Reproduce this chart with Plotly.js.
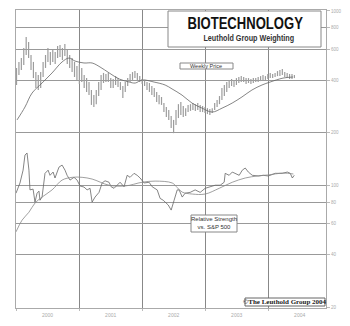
<!DOCTYPE html>
<html><head><meta charset="utf-8">
<script src="https://cdn.plot.ly/plotly-3.0.1.min.js"></script>
<style>html,body{margin:0;padding:0;background:#fff;}#chart{width:350px;height:326px;}</style>
</head><body><div id="chart"></div>
<script>
// Weekly price bars (sampled every two weeks): highs and lows
const priceStart = '2000-01-04';
const priceStepDays = 14;
const priceHigh = [471,510,537,613,709,664,559,510,446,429,446,510,559,613,582,597,582,630,638,613,
  646,597,559,537,510,483,496,471,429,412,391,352,329,352,391,429,441,435,441,412,
  407,423,412,391,371,391,412,435,446,452,441,423,407,402,391,386,371,361,343,329,
  321,296,281,270,250,237,270,292,300,285,277,289,292,296,292,296,289,285,281,277,
  274,277,296,308,325,361,376,391,402,407,402,412,418,423,418,412,412,407,412,412,
  418,423,429,423,435,441,435,441,452,458,464,446,441,435,435,429];
const priceLow = [376,429,458,490,559,537,458,412,361,352,361,418,471,510,490,510,496,537,544,523,
  552,496,471,446,418,402,381,391,361,343,329,289,281,292,325,352,386,391,391,361,
  361,376,366,352,317,343,371,391,402,412,402,391,381,371,352,343,329,321,300,292,
  289,263,246,237,213,199,222,243,253,246,250,263,267,270,267,270,263,263,260,256,
  253,260,270,281,292,308,325,343,361,371,366,376,386,391,391,381,386,381,386,391,
  391,396,402,402,407,412,412,418,423,423,429,418,412,407,407,412];

// 40-week moving average of price
const maDates = ['2000-01-07','2000-02-22','2000-04-03','2000-05-31','2000-07-28','2000-09-24','2000-11-03','2000-12-08',
  '2001-01-29','2001-03-17','2001-05-02','2001-06-24','2001-08-21','2001-10-18','2001-11-22','2002-01-01',
  '2002-03-11','2002-05-14','2002-06-23','2002-08-20','2002-10-17','2002-12-14','2003-02-10','2003-04-09',
  '2003-06-06','2003-08-02','2003-09-29','2003-11-26','2004-01-12','2004-03-27','2004-05-24'];
const maVals = [237,281,338,386,441,510,537,516,503,503,477,441,407,391,386,402,391,376,357,329,296,277,263,277,296,321,352,376,391,412,418];

// Relative strength vs. S&P 500
const rsDates = ['2000-01-01','2000-01-18','2000-01-24','2000-02-11','2000-02-22','2000-03-05','2000-03-16','2000-03-22',
  '2000-04-09','2000-04-20','2000-05-02','2000-05-13','2000-05-19','2000-05-31','2000-06-11','2000-06-17','2000-07-05',
  '2000-07-16','2000-08-03','2000-08-14','2000-09-06','2000-09-24','2000-10-11','2000-10-23','2000-11-09','2000-12-02',
  '2000-12-20','2001-01-06','2001-01-29','2001-02-16','2001-03-05','2001-03-17','2001-04-03','2001-04-26','2001-05-14',
  '2001-05-31','2001-06-23','2001-07-05','2001-07-22','2001-08-09','2001-08-26','2001-09-18','2001-10-06','2001-10-23',
  '2001-11-15','2001-12-03','2001-12-20','2002-01-12','2002-02-10','2002-02-28','2002-03-29','2002-04-15','2002-05-03',
  '2002-06-01','2002-06-18','2002-07-05','2002-07-23','2002-08-03','2002-08-21','2002-09-07','2002-10-06','2002-11-04',
  '2002-12-03','2003-01-01','2003-01-30','2003-02-28','2003-03-29','2003-04-21','2003-04-27','2003-05-20','2003-06-07',
  '2003-06-30','2003-07-17','2003-08-04','2003-08-21','2003-09-08','2003-10-01','2003-11-05','2003-12-04','2004-01-02',
  '2004-02-11','2004-03-23','2004-04-21','2004-05-08','2004-05-20','2004-05-31'];
const rsVals = [90,100,103,122,149,153,122,94,95,80,90,92.5,82,85.5,103,117,122,114,119,110,127,130.5,122,114,107,111,
  107,99,97.6,94,96,80,85.5,91,103,106,104,98,96,100,104,98,114,111,117,114,110,103,104,98,94,84,82,77,72,82,94,94,
  85.5,90,91,94,91,96,98,100,100,104,117,114,119,116,114,122,125.5,119,114,113,114,113,117,117,119,117,110,114];

// Moving average of relative strength
const rsMaDates = ['2000-01-01','2000-02-05','2000-03-16','2000-04-20','2000-05-31','2000-07-28','2000-09-24','2000-11-21',
  '2001-01-18','2001-03-17','2001-06-23','2001-09-24','2002-01-01','2002-03-17','2002-06-24','2002-07-23','2002-08-21',
  '2002-10-18','2003-01-01','2003-03-23','2003-06-07','2003-08-21','2003-10-30','2003-12-27','2004-03-29','2004-05-26'];
const rsMaVals = [54,63,70,79,85.5,94,107,111,111,108.5,100,99,104,105.6,103,97,91.3,89,89,96,104,110,113,114.4,117.4,116];

const yTicks = [20,40,60,80,100,200,400,600,800,1000];
const xRange = ['2000-01-01','2004-12-01'];

// build dates for the price bars
const priceDates = [];
{
  const t0 = new Date(priceStart + 'T00:00:00Z').getTime();
  for (let i = 0; i < priceHigh.length; i++) {
    priceDates.push(new Date(t0 + i * priceStepDays * 86400000).toISOString().slice(0,10));
  }
}
const barX = [], barY = [];
priceDates.forEach((d, i) => { barX.push(d, d, null); barY.push(priceLow[i], priceHigh[i], null); });

const traces = [
  {x: barX, y: barY, type: 'scatter', mode: 'lines', line: {color: '#9c9c9c', width: 1.2}, hoverinfo: 'skip'},
  {x: maDates, y: maVals, type: 'scatter', mode: 'lines', line: {color: '#666', width: 0.8, shape: 'spline'}},
  {x: rsDates, y: rsVals, type: 'scatter', mode: 'lines', line: {color: '#666', width: 0.8}},
  {x: rsMaDates, y: rsMaVals, type: 'scatter', mode: 'lines', line: {color: '#888', width: 0.8, shape: 'spline'}}
];

function px(x){ return (x - 16) / 310; }
function py(y){ return (308 - y) / 298; }

const sans = 'Liberation Sans, Arial, sans-serif';
const layout = {
  width: 350, height: 326,
  margin: {l: 16, r: 24, t: 10, b: 18},
  paper_bgcolor: '#fff', plot_bgcolor: '#fff',
  showlegend: false,
  xaxis: {
    type: 'date', range: xRange, dtick: 'M12', tick0: '2000-01-01', tickformat: '%Y',
    ticklabelmode: 'period', showgrid: true, gridcolor: '#888', gridwidth: 1,
    showline: true, mirror: true, linecolor: '#aaa', linewidth: 1,
    ticks: 'outside', ticklen: 2, tickcolor: '#bbb',
    tickfont: {family: sans, size: 5, color: '#aaa'},
    zeroline: false
  },
  yaxis: {
    type: 'log', range: [1.2953, 3.0057], side: 'right',
    tickvals: yTicks, ticktext: yTicks.map(String),
    showgrid: true, gridcolor: '#999', gridwidth: 1,
    showline: true, mirror: true, linecolor: '#aaa', linewidth: 1,
    ticks: 'outside', ticklen: 3, tickcolor: '#bbb',
    tickfont: {family: sans, size: 4.5, color: '#aaa'},
    zeroline: false
  },
  shapes: [
    {type: 'rect', xref: 'paper', yref: 'paper', x0: px(168), x1: px(321), y0: py(47), y1: py(11),
      fillcolor: '#fff', line: {color: '#888', width: 1}, layer: 'above'},
    {type: 'rect', xref: 'paper', yref: 'paper', x0: px(180), x1: px(233), y0: py(69), y1: py(63),
      fillcolor: '#fff', line: {color: '#888', width: 1}, layer: 'above'},
    {type: 'rect', xref: 'paper', yref: 'paper', x0: px(191), x1: px(237), y0: py(232), y1: py(215),
      fillcolor: '#fff', line: {color: '#888', width: 1}, layer: 'above'},
    {type: 'rect', xref: 'paper', yref: 'paper', x0: px(245), x1: px(325), y0: py(306), y1: py(298),
      fillcolor: '#fff', line: {color: '#666', width: 1}, layer: 'above'}
  ],
  annotations: [
    {text: '<b>BIOTECHNOLOGY</b>', xref: 'paper', yref: 'paper', x: px(245), y: py(23), showarrow: false,
      xanchor: 'center', yanchor: 'middle', font: {family: sans, size: 17, color: '#111'}},
    {text: '<b>Leuthold Group Weighting</b>', xref: 'paper', yref: 'paper', x: px(249), y: py(38), showarrow: false,
      xanchor: 'center', yanchor: 'middle', font: {family: sans, size: 9.5, color: '#333'}},
    {text: 'Weekly Price', xref: 'paper', yref: 'paper', x: px(206), y: py(66), showarrow: false,
      xanchor: 'center', yanchor: 'middle', font: {family: sans, size: 5.5, color: '#333'}},
    {text: 'Relative Strength<br>vs. S&P 500', xref: 'paper', yref: 'paper', x: px(214), y: py(223.5), showarrow: false,
      xanchor: 'center', yanchor: 'middle', font: {family: sans, size: 6, color: '#333'}},
    {text: '<b>©The Leuthold Group 2004</b>', xref: 'paper', yref: 'paper', x: px(285), y: py(302), showarrow: false,
      xanchor: 'center', yanchor: 'middle', font: {family: 'Liberation Serif, Times New Roman, serif', size: 7, color: '#222'}}
  ]
};

// condensed look of the original title lettering (target widths in px)
const squeezeWidths = [116, 91];

Plotly.newPlot('chart', traces, layout, {displayModeBar: false, staticPlot: true}).then(gd => {
  const texts = gd.querySelectorAll('.annotation-text');
  squeezeWidths.forEach((w, i) => {
    const t = texts[i];
    if (!t) return;
    const bb = t.getBBox();
    const s = Math.min(1, w / bb.width);
    const cx = bb.x + bb.width / 2;
    t.setAttribute('transform', `translate(${cx},0) scale(${s},1) translate(${-cx},0)`);
  });
});
</script>
</body></html>
